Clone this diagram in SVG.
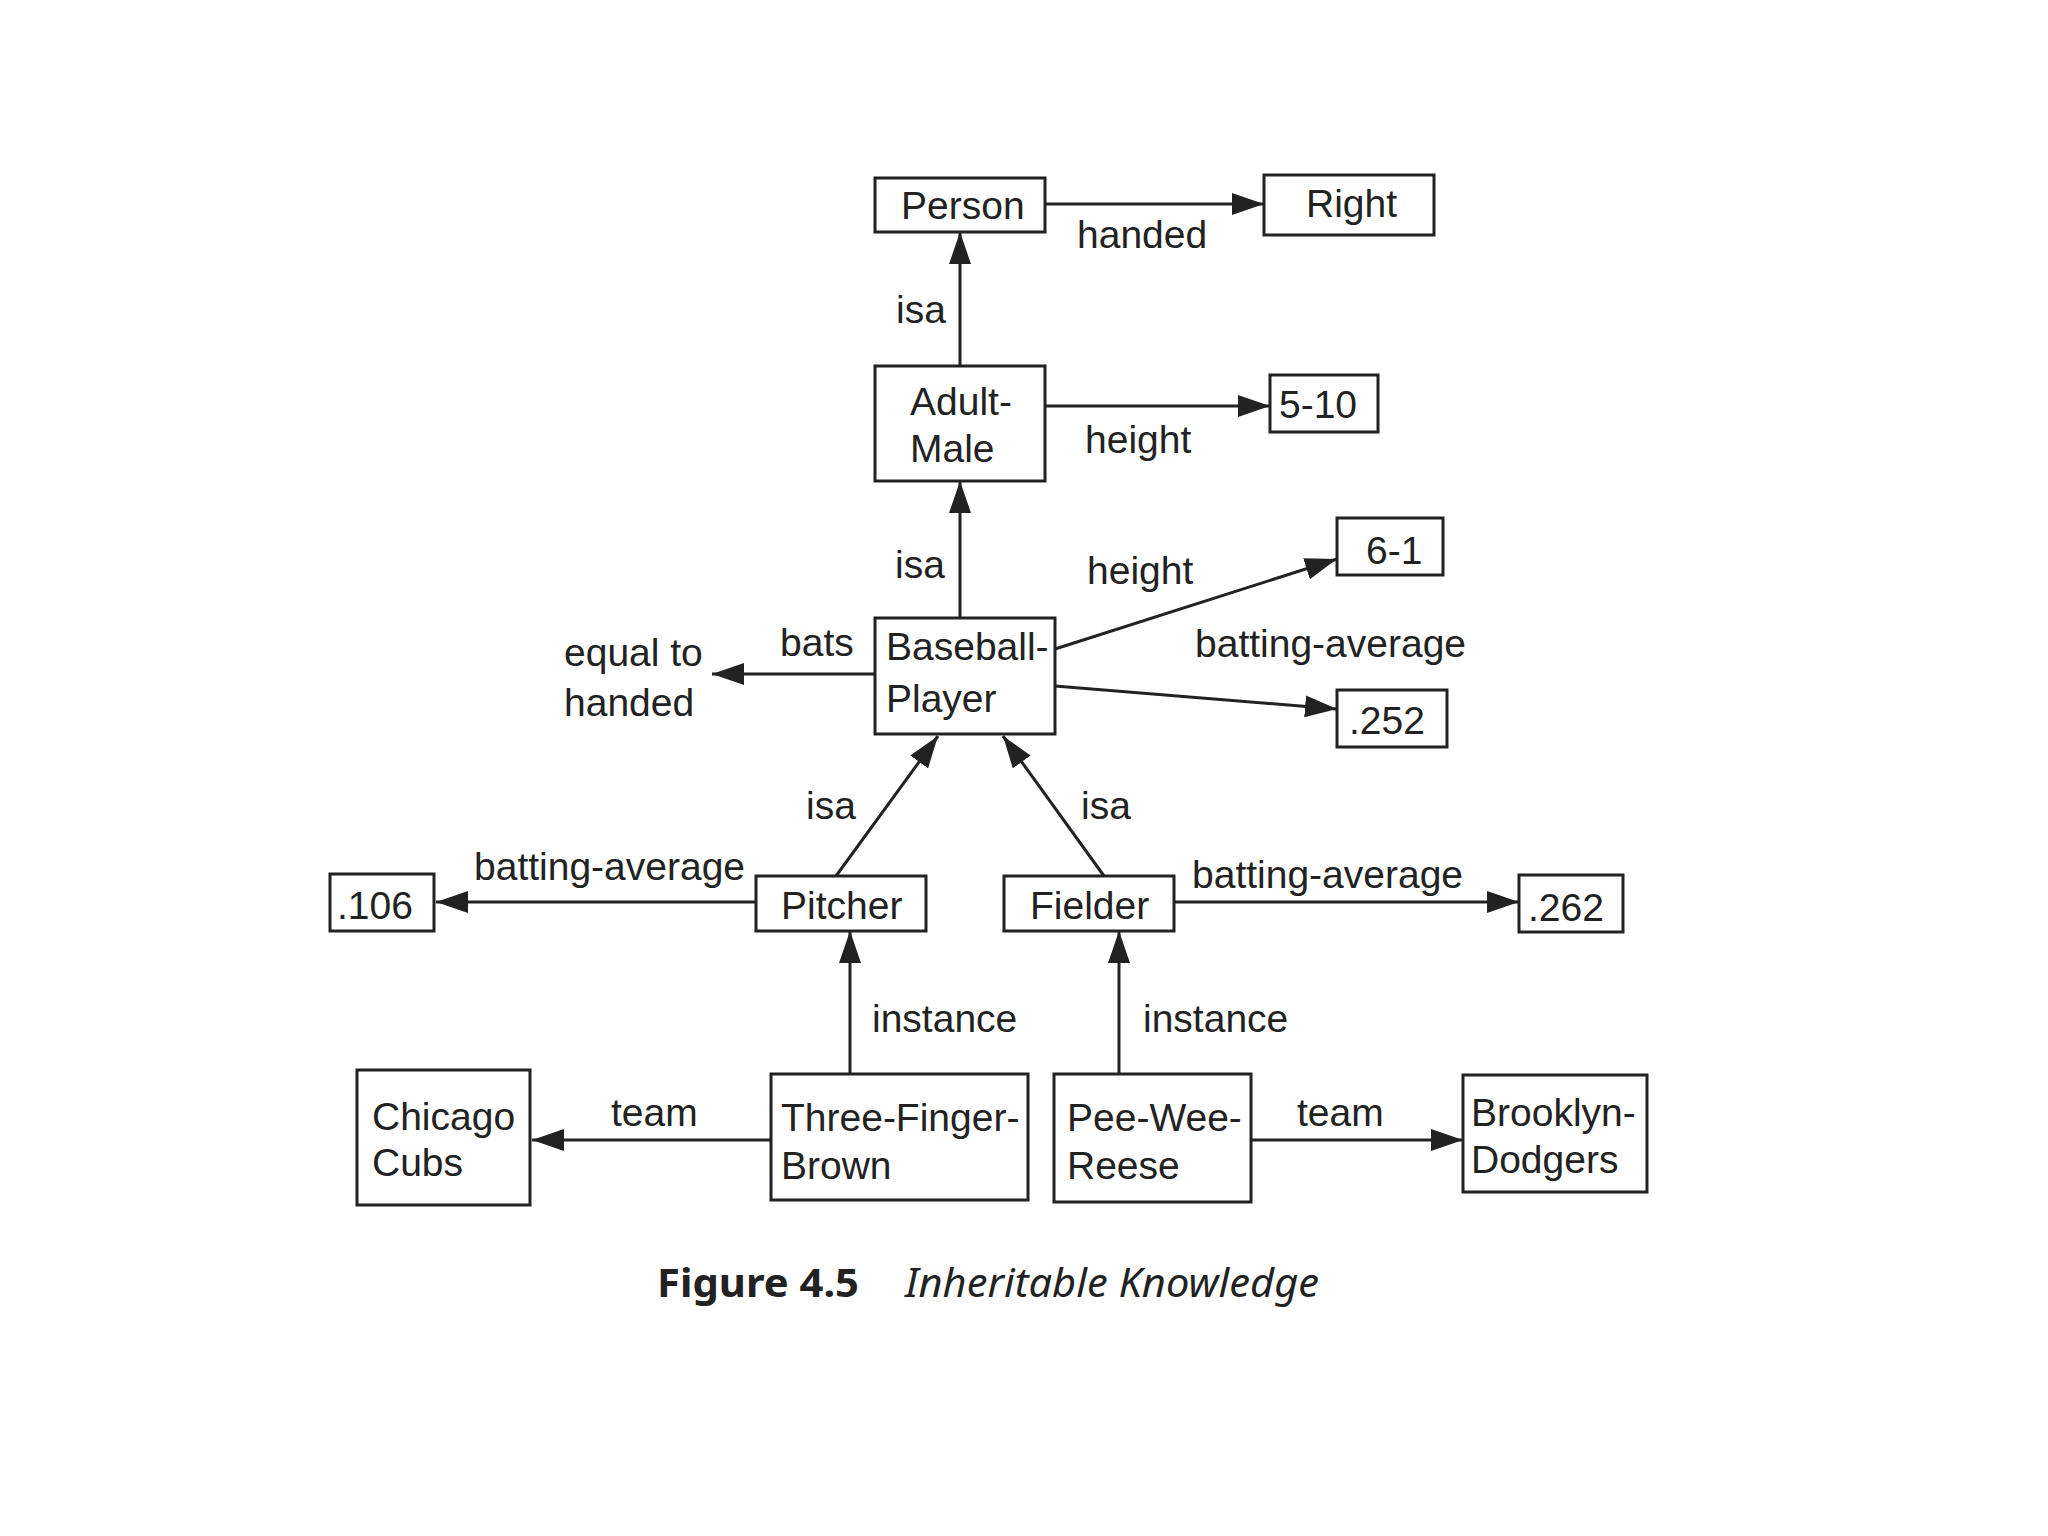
<svg xmlns="http://www.w3.org/2000/svg" width="2048" height="1536" viewBox="0 0 2048 1536">
<defs>
<style>
.box{fill:#fff;stroke:#222;stroke-width:3}
.t{font-family:"Liberation Sans",Arial,sans-serif;font-size:39px;fill:#222}
.e{stroke:#222;stroke-width:3;fill:none;marker-end:url(#ah)}
.cap{font-family:"Noto Sans","Liberation Sans",sans-serif;font-size:40px;fill:#222}
</style>
<marker id="ah" markerUnits="userSpaceOnUse" markerWidth="34" markerHeight="24" refX="32" refY="11" orient="auto">
<path d="M0,0 L32,11 L0,22 Z" fill="#222"/>
</marker>
</defs>
<rect width="2048" height="1536" fill="#fff"/>
<g id="connectors">
<line class="e" x1="1045" y1="204" x2="1264" y2="204"/>
<text class="t" x="1077" y="248">handed</text>
<line class="e" x1="960" y1="366" x2="960" y2="232"/>
<text class="t" x="896" y="323">isa</text>
<line class="e" x1="1045" y1="406" x2="1270" y2="406"/>
<text class="t" x="1085" y="453">height</text>
<line class="e" x1="960" y1="618" x2="960" y2="481"/>
<text class="t" x="895" y="578">isa</text>
<line class="e" x1="875" y1="674" x2="712" y2="674"/>
<text class="t" x="780" y="656">bats</text>
<line class="e" x1="1055" y1="649" x2="1337" y2="559"/>
<text class="t" x="1087" y="584">height</text>
<line class="e" x1="1055" y1="686" x2="1337" y2="709"/>
<text class="t" x="1195" y="657">batting-average</text>
<line class="e" x1="836" y1="876" x2="938" y2="736"/>
<text class="t" x="806" y="819">isa</text>
<line class="e" x1="1104" y1="876" x2="1003" y2="736"/>
<text class="t" x="1081" y="819">isa</text>
<line class="e" x1="756" y1="902" x2="436" y2="902"/>
<text class="t" x="474" y="880">batting-average</text>
<line class="e" x1="1174" y1="902" x2="1519" y2="902"/>
<text class="t" x="1192" y="888">batting-average</text>
<line class="e" x1="850" y1="1074" x2="850" y2="931"/>
<text class="t" x="872" y="1032">instance</text>
<line class="e" x1="1119" y1="1074" x2="1119" y2="931"/>
<text class="t" x="1143" y="1032">instance</text>
<line class="e" x1="771" y1="1140" x2="532" y2="1140"/>
<text class="t" x="611" y="1126">team</text>
<line class="e" x1="1251" y1="1140" x2="1463" y2="1140"/>
<text class="t" x="1297" y="1126">team</text>
</g>
<g id="person"><rect class="box" x="875" y="178" width="170" height="54"/><text class="t" x="901" y="219">Person</text></g>
<g id="right"><rect class="box" x="1264" y="175" width="170" height="60"/><text class="t" x="1306" y="217">Right</text></g>
<g id="adult-male"><rect class="box" x="875" y="366" width="170" height="115"/><text class="t" x="910" y="415">Adult-</text><text class="t" x="910" y="462">Male</text></g>
<g id="h510"><rect class="box" x="1270" y="375" width="108" height="57"/><text class="t" x="1279" y="418">5-10</text></g>
<g id="baseball-player"><rect class="box" x="875" y="618" width="180" height="116"/><text class="t" x="886" y="660">Baseball-</text><text class="t" x="886" y="712">Player</text></g>
<g id="equal-to-handed"><text class="t" x="564" y="666">equal to</text><text class="t" x="564" y="716">handed</text></g>
<g id="h61"><rect class="box" x="1337" y="518" width="106" height="57"/><text class="t" x="1366" y="564">6-1</text></g>
<g id="ba252"><rect class="box" x="1337" y="690" width="110" height="57"/><text class="t" x="1349" y="734">.252</text></g>
<g id="pitcher"><rect class="box" x="756" y="876" width="170" height="55"/><text class="t" x="781" y="919">Pitcher</text></g>
<g id="fielder"><rect class="box" x="1004" y="876" width="170" height="55"/><text class="t" x="1030" y="919">Fielder</text></g>
<g id="ba106"><rect class="box" x="330" y="874" width="104" height="57"/><text class="t" x="337" y="919">.106</text></g>
<g id="ba262"><rect class="box" x="1519" y="875" width="104" height="57"/><text class="t" x="1528" y="921">.262</text></g>
<g id="chicago-cubs"><rect class="box" x="357" y="1070" width="173" height="135"/><text class="t" x="372" y="1130">Chicago</text><text class="t" x="372" y="1176">Cubs</text></g>
<g id="three-finger-brown"><rect class="box" x="771" y="1074" width="257" height="126"/><text class="t" x="781" y="1131">Three-Finger-</text><text class="t" x="781" y="1179">Brown</text></g>
<g id="pee-wee-reese"><rect class="box" x="1054" y="1074" width="197" height="128"/><text class="t" x="1067" y="1131">Pee-Wee-</text><text class="t" x="1067" y="1179">Reese</text></g>
<g id="brooklyn-dodgers"><rect class="box" x="1463" y="1075" width="184" height="117"/><text class="t" x="1471" y="1126">Brooklyn-</text><text class="t" x="1471" y="1173">Dodgers</text></g>
<g id="caption">
<text class="cap" x="657" y="1297" font-weight="bold" textLength="202" lengthAdjust="spacingAndGlyphs">Figure 4.5</text>
<text class="cap" x="905" y="1297" font-style="italic" textLength="414" lengthAdjust="spacingAndGlyphs">Inheritable Knowledge</text>
</g>
</svg>
